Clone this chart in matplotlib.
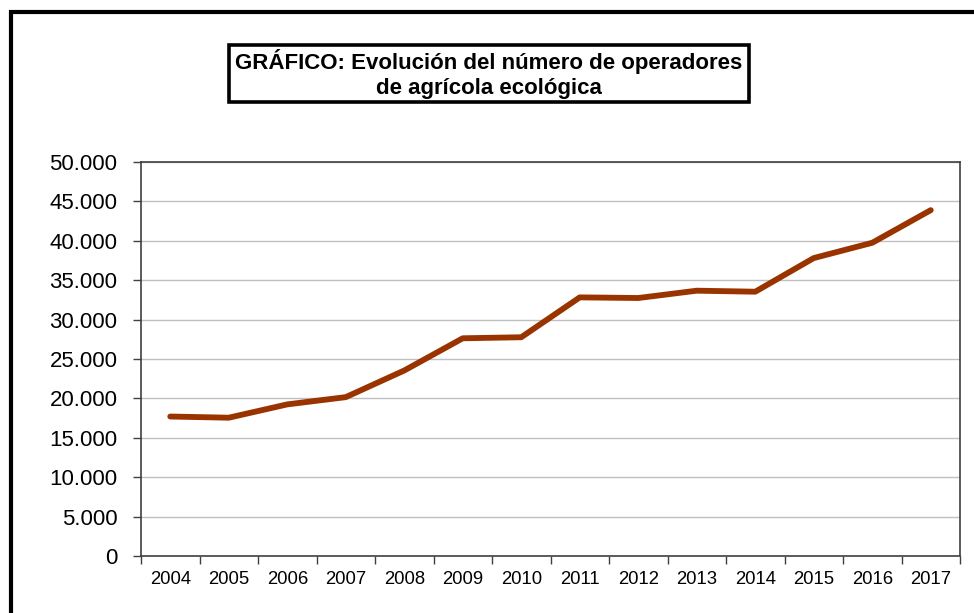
import matplotlib
matplotlib.use("Agg")
import matplotlib.pyplot as plt
from matplotlib.patches import Rectangle
from matplotlib.ticker import FuncFormatter, FixedLocator

plt.rcParams['font.family'] = ['Liberation Sans', 'DejaVu Sans']

years = ['2004', '2005', '2006', '2007', '2008', '2009', '2010',
         '2011', '2012', '2013', '2014', '2015', '2016', '2017']
operadores = [17700, 17550, 19240, 20160, 23540, 27630, 27760,
              32820, 32740, 33670, 33540, 37810, 39750, 43890]
y_ticks = [0, 5000, 10000, 15000, 20000, 25000, 30000, 35000, 40000, 45000, 50000]
title = 'GRÁFICO: Evolución del número de operadores\nde agrícola ecológica'

W, H = 974, 613
fig = plt.figure(figsize=(W / 100, H / 100), dpi=100)

# outer frame (cut by right and bottom edge)
fig.patches.append(Rectangle((11 / W, -0.1), 1.2, 1 - 12 / H + 0.1,
                             transform=fig.transFigure, fill=False,
                             edgecolor='black', linewidth=3, zorder=0))

ax = fig.add_axes([141 / W, 1 - 556 / H, (960 - 141) / W, (556 - 162) / H])

x = list(range(len(years)))
ax.plot(x, operadores, color='#993300', linewidth=4.2,
        solid_capstyle='round', solid_joinstyle='round', zorder=3)

ax.set_xlim(-0.5, len(years) - 0.5)
ax.set_ylim(0, 50000)
ax.set_yticks(y_ticks)
ax.yaxis.set_major_formatter(FuncFormatter(lambda v, p: f'{int(v):,}'.replace(',', '.')))
ax.grid(axis='y', color='#c0c0c0', linewidth=1)
ax.set_axisbelow(True)

ax.xaxis.set_major_locator(FixedLocator([i - 0.5 for i in range(len(years) + 1)]))
ax.xaxis.set_major_formatter(FuncFormatter(lambda v, p: ''))
ax.set_xticks(x, minor=True)
ax.set_xticklabels(years, minor=True)
ax.tick_params(axis='x', which='minor', length=0, labelsize=13.3, pad=11)
ax.tick_params(axis='x', which='major', length=6, width=1, color='#404040')
ax.tick_params(axis='y', length=6, width=1, color='#404040', labelsize=16, pad=11)

for s in ax.spines.values():
    s.set_color('#404040')
    s.set_linewidth(1.2)

fig.text((229 + 749) / 2 / W, 1 - 74 / H, title, ha='center', va='center',
         fontsize=16, fontweight='bold', linespacing=1.2)
fig.patches.append(Rectangle((229 / W, 1 - 102 / H), 520 / W, 57 / H,
                             transform=fig.transFigure, fill=False,
                             edgecolor='black', linewidth=2.6))

fig.savefig('out.png', dpi=100)
